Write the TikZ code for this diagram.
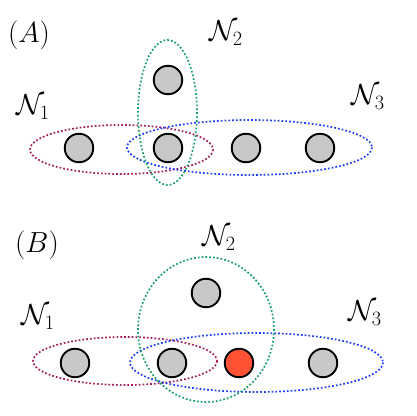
\RequirePackage{fix-cm}
\documentclass[tikz,border=0pt]{standalone}
\usetikzlibrary{positioning}
\definecolor{grpa}{RGB}{165,25,90}
\definecolor{grpb}{RGB}{20,160,100}
\definecolor{grpc}{RGB}{25,60,250}
\definecolor{nodefill}{RGB}{200,200,200}
\definecolor{hotfill}{RGB}{255,82,52}
\begin{document}
\begin{tikzpicture}[x=1pt,y=-1pt,line width=1.8pt,
  every node/.style={font=\fontsize{29}{34}\selectfont,inner sep=0pt},
  vertex/.style={circle,draw=black,fill=nodefill,minimum size=28.5pt,line width=1.9pt},
  hot/.style={vertex,fill=hotfill},
  ring/.style={line width=1.7pt,dash pattern=on 1.7pt off 2.1pt}]
\useasboundingbox (0,0) rectangle (416,416);
% panel A
\node (la) at (29,35) {$(A)$};
\node (ta) at (168,80) [vertex] {};
\node (a1) at (79,148) [vertex] {};
\node (a2) at (168,148) [vertex] {};
\node (a3) at (246,148) [vertex] {};
\node (a4) at (320,148) [vertex] {};
\draw[ring,grpa] (121.5,149.5) ellipse[x radius=91.5,y radius=24.5];
\draw[ring,grpc] (249.5,147.5) ellipse[x radius=122.5,y radius=27.5];
\draw[ring,grpb] (167.5,112.5) ellipse[x radius=29.5,y radius=72.5];
\node (na1) at (33,107) {$\mathcal{N}_1$};
\node (na2) at (226,33) {$\mathcal{N}_2$};
\node (na3) at (368,97) {$\mathcal{N}_3$};
% panel B
\node (lb) at (37,245) {$(B)$};
\node (tb) at (206,293) [vertex] {};
\node (b1) at (75,363) [vertex] {};
\node (b2) at (172,363) [vertex] {};
\node (b3) at (239,363) [hot] {};
\node (b4) at (323,363) [vertex] {};
\draw[ring,grpa] (125,361) ellipse[x radius=92,y radius=24];
\draw[ring,grpc] (256.5,362.5) ellipse[x radius=126.5,y radius=29.5];
\draw[ring,grpb] (206,329.5) ellipse[x radius=68,y radius=72.5];
\node (nb1) at (38,317) {$\mathcal{N}_1$};
\node (nb2) at (219,238) {$\mathcal{N}_2$};
\node (nb3) at (365,313) {$\mathcal{N}_3$};
\end{tikzpicture}
\end{document}
